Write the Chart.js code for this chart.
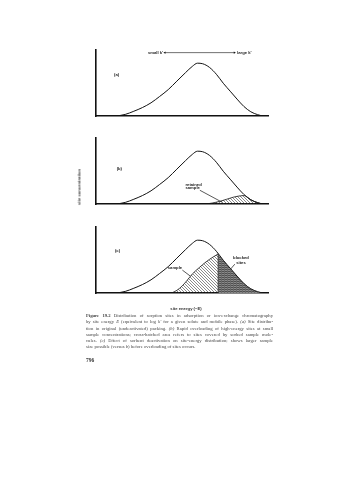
<!DOCTYPE html>
<html>
<head>
<meta charset="utf-8">
<script src="https://cdn.jsdelivr.net/npm/chart.js@4.4.1/dist/chart.umd.min.js"></script>
<style>
  html, body { margin: 0; padding: 0; background: #fff; }
  body { width: 339px; height: 480px; position: relative; overflow: hidden; }
  .panel { position: absolute; left: 80px; width: 195px; height: 86px; }
  .ylab { position: absolute; left: 79px; top: 187px; transform: translate(-50%, -50%) rotate(-90deg);
          font: bold 4.2px "Liberation Sans", sans-serif; white-space: nowrap; color: #333; }
  .xlab { position: absolute; left: 186px; top: 308px; transform: translate(-50%, -50%);
          font: bold 4.2px "Liberation Sans", sans-serif; white-space: nowrap; color: #333; }
  .caption { position: absolute; left: 86px; top: 313px; width: 187px;
             font: 4.7px/6.3px "Liberation Serif", serif; color: #444; }
  .caption div { white-space: nowrap; text-align: justify; text-align-last: justify; height: 6.3px; }
  .caption div.last { text-align-last: left; }
  .page { position: absolute; left: 86px; top: 357px; font: bold 5.5px "Liberation Serif", serif; color: #333; }
</style>
</head>
<body>
<div class="panel" style="top:44px"><canvas id="chartA"></canvas></div>
<div class="panel" style="top:132px"><canvas id="chartB"></canvas></div>
<div class="panel" style="top:221px"><canvas id="chartC"></canvas></div>
<div class="ylab">site concentration</div>
<div class="xlab">site energy (−E)</div>
<div class="caption">
  <div><b>Figure 19.2</b> Distribution of sorption sites in adsorption or ion-exchange chromatography</div>
  <div>by site energy <i>E</i> (equivalent to log <i>k'</i> for a given solute and mobile phase). <i>(a)</i> Site distribu-</div>
  <div>tion in original (undeactivated) packing. <i>(b)</i> Rapid overloading of high-energy sites at small</div>
  <div>sample concentrations; cross-hatched area refers to sites covered by sorbed sample mole-</div>
  <div>cules. <i>(c)</i> Effect of sorbent deactivation on site-energy distribution; shows larger sample</div>
  <div class="last">size possible (versus <i>b</i>) before overloading of sites occurs.</div>
</div>
<div class="page">796</div>
<script>
// site energy (0-100 across the axis) and site concentration (peak = 100)
const energy = [12, 17, 22, 27, 32, 37, 42, 47, 52, 56, 59, 62, 66, 70, 74, 78, 82, 86, 90, 94, 97];
const sites = [0, 3, 9, 16, 25, 37, 50, 66, 82, 94, 100, 99, 92, 79, 62, 47, 32, 18, 8, 2.5, 0];

// (b) retained sample on high-energy sites
const retainedE = [64, 68, 72, 76, 80, 84, 86, 88, 90, 94, 97];
const retained = [0, 2, 5, 9, 13, 15.5, 16, 13, 8, 2.5, 0];

// (c) sample after deactivation, and the blocked sites
const sampleE = [44, 47, 50, 53, 56, 60, 64, 68, 71];
const sample = [0, 5, 13, 24, 36, 48, 59, 68, 74];
const blockedE = [71, 74, 78, 82, 86, 90, 94, 97];
const blocked = [74, 62, 47, 32, 18, 8, 2.5, 0];

// k' arrow on top of (a)
const arrowE = [40, 80.5];
const arrowY = [120, 120];

const yMax = 125;

function pts(xs, ys) {
  return xs.map((v, i) => ({ x: v, y: ys[i] }));
}

function hatch() {
  const c = document.createElement("canvas");
  c.width = 3; c.height = 3;
  const g = c.getContext("2d");
  g.strokeStyle = "#2a2a2a";
  g.lineWidth = 0.55;
  g.beginPath();
  g.moveTo(-1, -1); g.lineTo(4, 4);
  g.moveTo(-1, 2); g.lineTo(1, 4);
  g.moveTo(2, -1); g.lineTo(4, 1);
  g.stroke();
  return g.createPattern(c, "repeat");
}

function darkHatch() {
  const c = document.createElement("canvas");
  c.width = 3; c.height = 2;
  const g = c.getContext("2d");
  g.fillStyle = "#8a8a8a";
  g.fillRect(0, 0, 3, 2);
  g.fillStyle = "#505050";
  g.fillRect(0, 0, 3, 1);
  g.fillStyle = "#6a6a6a";
  g.fillRect(0, 0, 1, 2);
  return g.createPattern(c, "repeat");
}

const notesPlugin = {
  id: "notes",
  afterDatasetsDraw(chart, args, opts) {
    const { ctx, scales: { x, y } } = chart;
    ctx.save();
    ctx.fillStyle = "#222";
    ctx.font = 'bold 4.2px "Liberation Sans", sans-serif';
    ctx.textBaseline = "middle";
    (opts.items || []).forEach(n => {
      ctx.textAlign = n.align || "left";
      ctx.fillText(n.text, x.getPixelForValue(n.x), y.getPixelForValue(n.y));
    });
    ctx.restore();
  }
};

function mainCurve() {
  return {
    data: pts(energy, sites),
    borderColor: "#111",
    borderWidth: 1,
    pointRadius: 0,
    cubicInterpolationMode: "monotone",
    fill: false
  };
}

function leader(x0, y0, x1, y1) {
  return {
    data: [{ x: x0, y: y0 }, { x: x1, y: y1 }],
    borderColor: "#111",
    borderWidth: 0.7,
    pointRadius: 0,
    fill: false
  };
}

function makeChart(id, datasets, notes) {
  return new Chart(document.getElementById(id), {
    type: "line",
    data: { datasets: datasets },
    plugins: [notesPlugin],
    options: {
      responsive: false,
      animation: false,
      events: [],
      layout: { padding: { left: 8, right: 7, top: 6, bottom: 6 } },
      scales: {
        x: {
          type: "linear", min: 0, max: 100,
          grid: { display: false },
          ticks: { display: false },
          border: { display: true, color: "#111", width: 1.6 }
        },
        y: {
          min: 0, max: yMax,
          grid: { display: false },
          ticks: { display: false },
          border: { display: true, color: "#111", width: 1.6 }
        }
      },
      plugins: {
        legend: { display: false },
        tooltip: { enabled: false },
        notes: { items: notes }
      }
    }
  });
}

["chartA", "chartB", "chartC"].forEach(id => {
  const cv = document.getElementById(id);
  cv.width = 195; cv.height = 86;
  cv.style.width = "195px"; cv.style.height = "86px";
});

makeChart("chartA", [
  mainCurve(),
  {
    data: pts(arrowE, arrowY),
    borderColor: "#111",
    borderWidth: 0.6,
    pointStyle: "triangle",
    pointRadius: 1.4,
    pointRotation: [-90, 90],
    pointBackgroundColor: "#111",
    pointBorderWidth: 0,
    fill: false
  }
], [
  { x: 10.5, y: 78, text: "(a)" },
  { x: 39, y: 120, text: "small k'", align: "right" },
  { x: 82, y: 120, text: "large k'" }
]);

makeChart("chartB", [
  mainCurve(),
  {
    data: pts(retainedE, retained),
    borderColor: "#111",
    borderWidth: 0.8,
    pointRadius: 0,
    cubicInterpolationMode: "monotone",
    fill: "origin",
    backgroundColor: hatch()
  },
  leader(60.4, 26, 73.3, 3.4)
], [
  { x: 12, y: 66, text: "(b)" },
  { x: 52, y: 37, text: "retained" },
  { x: 52, y: 30.4, text: "sample" }
]);

makeChart("chartC", [
  mainCurve(),
  leader(71, 0, 71, 74),
  {
    data: pts(sampleE, sample),
    borderColor: "#111",
    borderWidth: 0.8,
    pointRadius: 0,
    cubicInterpolationMode: "monotone",
    fill: "origin",
    backgroundColor: hatch()
  },
  {
    data: pts(blockedE, blocked),
    borderWidth: 0,
    pointRadius: 0,
    cubicInterpolationMode: "monotone",
    fill: "origin",
    backgroundColor: darkHatch()
  },
  leader(50.2, 43.4, 54.8, 32.1),
  leader(80.7, 54.6, 77, 40.5)
], [
  { x: 11, y: 79.4, text: "(c)" },
  { x: 41.7, y: 47.3, text: "sample" },
  { x: 84.3, y: 65.9, text: "blocked", align: "center" },
  { x: 84.3, y: 57.4, text: "sites", align: "center" }
]);
</script>
</body>
</html>
